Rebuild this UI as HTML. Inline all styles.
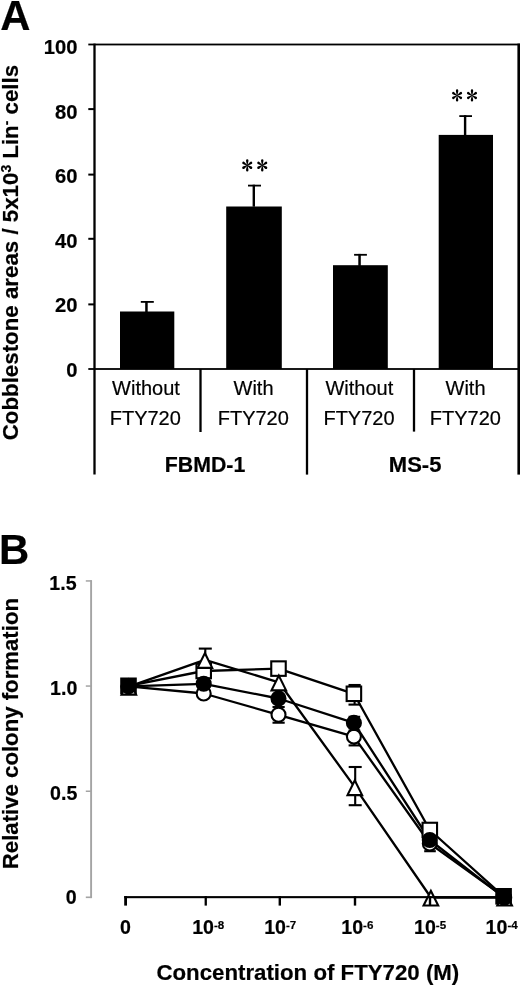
<!DOCTYPE html>
<html><head><meta charset="utf-8">
<style>
html,body{margin:0;padding:0;background:#fff;}
body{width:520px;height:985px;overflow:hidden;position:relative;}
svg{position:absolute;left:0;top:0;will-change:transform;}
text{font-family:"Liberation Sans",sans-serif;stroke:#000;stroke-width:0.2px;}
.b{font-weight:bold;}
</style></head><body>
<svg width="520" height="985" viewBox="0 0 520 985">
<!-- ========== Panel A ========== -->
<text class="b" x="0.2" y="30" font-size="41.8">A</text>
<!-- y title -->
<text class="b" font-size="22.3" transform="translate(18,440.3) rotate(-90)">Cobblestone areas / 5x10<tspan font-size="13.8" dy="-7.3">3</tspan><tspan dy="7.3"> Lin</tspan><tspan font-size="13.8" dy="-7.3">-</tspan><tspan dy="7.3"> cells</tspan></text>
<!-- tick labels -->
<g class="b" font-size="20.2" text-anchor="end">
<text x="77.4" y="54.3">100</text>
<text x="77.4" y="118.8">80</text>
<text x="77.4" y="183.2">60</text>
<text x="77.4" y="247.7">40</text>
<text x="77.4" y="312.1">20</text>
<text x="77.4" y="376.6">0</text>
</g>
<!-- frame -->
<g fill="#000">
<rect x="93.35" y="43.6" width="2.3" height="430.9"/>
<rect x="88.3" y="43.6" width="431.7" height="1.8"/>
<rect x="517.4" y="43.6" width="2.6" height="431.0"/>
<rect x="88.3" y="368.1" width="431.7" height="1.8"/>
<rect x="88.3" y="108.1" width="6" height="2"/>
<rect x="88.3" y="173.6" width="6" height="2"/>
<rect x="88.3" y="237.8" width="6" height="2"/>
<rect x="88.3" y="303.4" width="6" height="2"/>
<!-- dividers -->
<rect x="199.35" y="369" width="2.3" height="63"/>
<rect x="305.85" y="369" width="2.3" height="105.6"/>
<rect x="412.85" y="369" width="2.3" height="62.6"/>
<!-- bars -->
<rect x="120" y="311.5" width="54.3" height="57.5"/>
<rect x="226.2" y="206.5" width="55.6" height="162.5"/>
<rect x="333" y="265.2" width="54.8" height="103.8"/>
<rect x="438.7" y="134.9" width="54.3" height="234.1"/>
<!-- error bars -->
<rect x="145.2" y="301" width="2.5" height="11"/>
<rect x="140.8" y="301" width="13" height="1.8"/>
<rect x="252.6" y="184.7" width="2.4" height="22"/>
<rect x="248" y="184.7" width="13" height="1.8"/>
<rect x="358.3" y="253.9" width="2.5" height="12"/>
<rect x="354.1" y="253.9" width="12.8" height="1.8"/>
<rect x="463.9" y="115.2" width="2.4" height="20"/>
<rect x="459.3" y="115.2" width="12.7" height="1.8"/>
</g>
<!-- asterisks -->

<g transform="translate(247.25,165.35) scale(0.92,1)"><path d="M-0.35,0 C-0.7,-2.4 -1.4,-3.85 -1.3,-4.80 A1.3,1.3 0 0 1 1.3,-4.80 C1.4,-3.85 0.7,-2.4 0.35,0 Z" transform="rotate(0)"/><path d="M-0.35,0 C-0.7,-2.4 -1.4,-3.85 -1.3,-4.80 A1.3,1.3 0 0 1 1.3,-4.80 C1.4,-3.85 0.7,-2.4 0.35,0 Z" transform="rotate(60)"/><path d="M-0.35,0 C-0.7,-2.4 -1.4,-3.85 -1.3,-4.80 A1.3,1.3 0 0 1 1.3,-4.80 C1.4,-3.85 0.7,-2.4 0.35,0 Z" transform="rotate(120)"/><path d="M-0.35,0 C-0.7,-2.4 -1.4,-3.85 -1.3,-4.80 A1.3,1.3 0 0 1 1.3,-4.80 C1.4,-3.85 0.7,-2.4 0.35,0 Z" transform="rotate(180)"/><path d="M-0.35,0 C-0.7,-2.4 -1.4,-3.85 -1.3,-4.80 A1.3,1.3 0 0 1 1.3,-4.80 C1.4,-3.85 0.7,-2.4 0.35,0 Z" transform="rotate(240)"/><path d="M-0.35,0 C-0.7,-2.4 -1.4,-3.85 -1.3,-4.80 A1.3,1.3 0 0 1 1.3,-4.80 C1.4,-3.85 0.7,-2.4 0.35,0 Z" transform="rotate(300)"/></g>
<g transform="translate(262.25,165.35) scale(0.92,1)"><path d="M-0.35,0 C-0.7,-2.4 -1.4,-3.85 -1.3,-4.80 A1.3,1.3 0 0 1 1.3,-4.80 C1.4,-3.85 0.7,-2.4 0.35,0 Z" transform="rotate(0)"/><path d="M-0.35,0 C-0.7,-2.4 -1.4,-3.85 -1.3,-4.80 A1.3,1.3 0 0 1 1.3,-4.80 C1.4,-3.85 0.7,-2.4 0.35,0 Z" transform="rotate(60)"/><path d="M-0.35,0 C-0.7,-2.4 -1.4,-3.85 -1.3,-4.80 A1.3,1.3 0 0 1 1.3,-4.80 C1.4,-3.85 0.7,-2.4 0.35,0 Z" transform="rotate(120)"/><path d="M-0.35,0 C-0.7,-2.4 -1.4,-3.85 -1.3,-4.80 A1.3,1.3 0 0 1 1.3,-4.80 C1.4,-3.85 0.7,-2.4 0.35,0 Z" transform="rotate(180)"/><path d="M-0.35,0 C-0.7,-2.4 -1.4,-3.85 -1.3,-4.80 A1.3,1.3 0 0 1 1.3,-4.80 C1.4,-3.85 0.7,-2.4 0.35,0 Z" transform="rotate(240)"/><path d="M-0.35,0 C-0.7,-2.4 -1.4,-3.85 -1.3,-4.80 A1.3,1.3 0 0 1 1.3,-4.80 C1.4,-3.85 0.7,-2.4 0.35,0 Z" transform="rotate(300)"/></g>
<g transform="translate(457.1,95.45) scale(0.92,1)"><path d="M-0.35,0 C-0.7,-2.4 -1.4,-3.85 -1.3,-4.80 A1.3,1.3 0 0 1 1.3,-4.80 C1.4,-3.85 0.7,-2.4 0.35,0 Z" transform="rotate(0)"/><path d="M-0.35,0 C-0.7,-2.4 -1.4,-3.85 -1.3,-4.80 A1.3,1.3 0 0 1 1.3,-4.80 C1.4,-3.85 0.7,-2.4 0.35,0 Z" transform="rotate(60)"/><path d="M-0.35,0 C-0.7,-2.4 -1.4,-3.85 -1.3,-4.80 A1.3,1.3 0 0 1 1.3,-4.80 C1.4,-3.85 0.7,-2.4 0.35,0 Z" transform="rotate(120)"/><path d="M-0.35,0 C-0.7,-2.4 -1.4,-3.85 -1.3,-4.80 A1.3,1.3 0 0 1 1.3,-4.80 C1.4,-3.85 0.7,-2.4 0.35,0 Z" transform="rotate(180)"/><path d="M-0.35,0 C-0.7,-2.4 -1.4,-3.85 -1.3,-4.80 A1.3,1.3 0 0 1 1.3,-4.80 C1.4,-3.85 0.7,-2.4 0.35,0 Z" transform="rotate(240)"/><path d="M-0.35,0 C-0.7,-2.4 -1.4,-3.85 -1.3,-4.80 A1.3,1.3 0 0 1 1.3,-4.80 C1.4,-3.85 0.7,-2.4 0.35,0 Z" transform="rotate(300)"/></g>
<g transform="translate(472.0,95.45) scale(0.92,1)"><path d="M-0.35,0 C-0.7,-2.4 -1.4,-3.85 -1.3,-4.80 A1.3,1.3 0 0 1 1.3,-4.80 C1.4,-3.85 0.7,-2.4 0.35,0 Z" transform="rotate(0)"/><path d="M-0.35,0 C-0.7,-2.4 -1.4,-3.85 -1.3,-4.80 A1.3,1.3 0 0 1 1.3,-4.80 C1.4,-3.85 0.7,-2.4 0.35,0 Z" transform="rotate(60)"/><path d="M-0.35,0 C-0.7,-2.4 -1.4,-3.85 -1.3,-4.80 A1.3,1.3 0 0 1 1.3,-4.80 C1.4,-3.85 0.7,-2.4 0.35,0 Z" transform="rotate(120)"/><path d="M-0.35,0 C-0.7,-2.4 -1.4,-3.85 -1.3,-4.80 A1.3,1.3 0 0 1 1.3,-4.80 C1.4,-3.85 0.7,-2.4 0.35,0 Z" transform="rotate(180)"/><path d="M-0.35,0 C-0.7,-2.4 -1.4,-3.85 -1.3,-4.80 A1.3,1.3 0 0 1 1.3,-4.80 C1.4,-3.85 0.7,-2.4 0.35,0 Z" transform="rotate(240)"/><path d="M-0.35,0 C-0.7,-2.4 -1.4,-3.85 -1.3,-4.80 A1.3,1.3 0 0 1 1.3,-4.80 C1.4,-3.85 0.7,-2.4 0.35,0 Z" transform="rotate(300)"/></g>
<!-- category labels -->
<g font-size="20" text-anchor="middle">
<text x="146" y="394.6">Without</text>
<text x="145.3" y="424.8">FTY720</text>
<text x="253.5" y="394.6">With</text>
<text x="253.3" y="424.8">FTY720</text>
<text x="359.3" y="394.6">Without</text>
<text x="359" y="424.8">FTY720</text>
<text x="465.5" y="394.6">With</text>
<text x="465.4" y="424.8">FTY720</text>
</g>
<g class="b" font-size="21.3" text-anchor="middle">
<text x="205.1" y="472">FBMD-1</text>
<text x="415.1" y="472.2" font-size="22">MS-5</text>
</g>

<!-- ========== Panel B ========== -->
<text class="b" x="-1.0" y="564.2" font-size="41.8">B</text>
<text class="b" font-size="22.2" transform="translate(17.9,869.2) rotate(-90)">Relative colony formation</text>
<text class="b" font-size="22.25" x="156.4" y="979.8">Concentration of FTY720 (M)</text>
<g class="b" font-size="19.6" text-anchor="end">
<text x="76.6" y="590.2">1.5</text>
<text x="77.3" y="695.2">1.0</text>
<text x="77.3" y="800.4">0.5</text>
<text x="76.6" y="903.7">0</text>
</g>
<!-- y axis (gray) -->
<g fill="#a4a4a4">
<rect x="90.15" y="580.2" width="1.9" height="317.9"/>
<rect x="85.8" y="580.2" width="5.9" height="1.5"/>
<rect x="85.8" y="685.3" width="5.9" height="1.5"/>
<rect x="85.8" y="790.5" width="5.9" height="1.5"/>
<rect x="85.8" y="896.5" width="5.9" height="1.6"/>
</g>
<!-- x tick labels -->
<g class="b" font-size="19.6">
<text x="125.4" y="934" text-anchor="middle">0</text>
<text x="192.2" y="933.8">10<tspan font-size="11.6" dy="-4.9">-8</tspan></text>
<text x="264.2" y="933.6">10<tspan font-size="11.6" dy="-4.9">-7</tspan></text>
<text x="341.3" y="933.8">10<tspan font-size="11.6" dy="-4.9">-6</tspan></text>
<text x="414" y="933.8">10<tspan font-size="11.6" dy="-4.9">-5</tspan></text>
<text x="485.6" y="933.8">10<tspan font-size="11.6" dy="-4.9">-4</tspan></text>
</g>

<polyline points="128.80,686.60 204.90,659.80 278.80,682.30 354.80,787.10 430.90,897.50 504.60,897.50" fill="none" stroke="#000" stroke-width="2.3" stroke-linejoin="round"/>
<polyline points="128.50,685.80 203.70,671.00 278.50,668.60 353.90,693.80 429.80,830.00 503.60,896.30" fill="none" stroke="#000" stroke-width="2.3" stroke-linejoin="round"/>
<polyline points="128.50,686.40 203.70,683.80 278.50,698.50 353.90,722.90 429.80,840.00 504.20,897.70" fill="none" stroke="#000" stroke-width="2.3" stroke-linejoin="round"/>
<polyline points="128.50,686.40 203.70,693.50 278.50,714.80 353.90,736.60 429.80,843.50 503.60,896.60" fill="none" stroke="#000" stroke-width="2.3" stroke-linejoin="round"/>
<rect x="204.25" y="648.60" width="2.1" height="11.40" fill="#000"/><rect x="198.80" y="647.55" width="13.0" height="2.1" fill="#000"/>
<rect x="354.15" y="767.00" width="2.1" height="38.20" fill="#000"/><rect x="348.70" y="765.95" width="13.0" height="2.1" fill="#000"/><rect x="348.70" y="804.15" width="13.0" height="2.1" fill="#000"/>
<rect x="353.55" y="685.00" width="2.1" height="19.60" fill="#000"/><rect x="348.50" y="683.95" width="12.2" height="2.1" fill="#000"/><rect x="348.50" y="703.55" width="12.2" height="2.1" fill="#000"/>
<rect x="277.55" y="707.00" width="2.1" height="15.70" fill="#000"/><rect x="272.50" y="705.95" width="12.2" height="2.1" fill="#000"/><rect x="272.50" y="721.65" width="12.2" height="2.1" fill="#000"/>
<rect x="353.35" y="730.50" width="2.1" height="14.90" fill="#000"/><rect x="348.60" y="729.45" width="11.6" height="2.1" fill="#000"/><rect x="348.60" y="744.35" width="11.6" height="2.1" fill="#000"/>
<rect x="353.35" y="716.80" width="2.1" height="12.20" fill="#000"/><rect x="348.60" y="715.75" width="11.6" height="2.1" fill="#000"/>
<rect x="428.95" y="844.00" width="2.1" height="7.20" fill="#000"/><rect x="424.20" y="850.15" width="11.6" height="2.1" fill="#000"/>
<circle cx="128.50" cy="686.40" r="7.00" fill="#fff" stroke="#000" stroke-width="2.1"/>
<rect x="121.25" y="678.55" width="14.50" height="14.50" fill="#000" stroke="#000" stroke-width="2.1"/>
<path d="M128.80,677.50 L137.80,695.70 L119.80,695.70 Z" fill="#000"/><path d="M128.80,682.24 L134.42,693.60 L123.18,693.60 Z" fill="#fff"/>
<circle cx="128.50" cy="686.40" r="7.00" fill="#000" stroke="#000" stroke-width="2.1"/>
<circle cx="203.70" cy="693.50" r="7.00" fill="#fff" stroke="#000" stroke-width="2.1"/>
<rect x="196.45" y="663.75" width="14.50" height="14.50" fill="#fff" stroke="#000" stroke-width="2.1"/>
<path d="M204.90,650.70 L213.90,668.90 L195.90,668.90 Z" fill="#000"/><path d="M204.90,655.44 L210.52,666.80 L199.28,666.80 Z" fill="#fff"/>
<circle cx="203.70" cy="683.80" r="7.00" fill="#000" stroke="#000" stroke-width="2.1"/>
<circle cx="278.50" cy="714.80" r="7.00" fill="#fff" stroke="#000" stroke-width="2.1"/>
<rect x="271.25" y="661.35" width="14.50" height="14.50" fill="#fff" stroke="#000" stroke-width="2.1"/>
<path d="M278.80,673.20 L287.80,691.40 L269.80,691.40 Z" fill="#000"/><path d="M278.80,677.94 L284.42,689.30 L273.18,689.30 Z" fill="#fff"/>
<circle cx="278.50" cy="698.50" r="7.00" fill="#000" stroke="#000" stroke-width="2.1"/>
<circle cx="353.90" cy="736.60" r="7.00" fill="#fff" stroke="#000" stroke-width="2.1"/>
<rect x="346.65" y="686.55" width="14.50" height="14.50" fill="#fff" stroke="#000" stroke-width="2.1"/>
<path d="M354.80,778.00 L363.80,796.20 L345.80,796.20 Z" fill="#000"/><path d="M354.80,782.74 L360.42,794.10 L349.18,794.10 Z" fill="#fff"/>
<circle cx="353.90" cy="722.90" r="7.00" fill="#000" stroke="#000" stroke-width="2.1"/>
<circle cx="429.80" cy="843.50" r="7.00" fill="#fff" stroke="#000" stroke-width="2.1"/>
<rect x="422.55" y="822.75" width="14.50" height="14.50" fill="#fff" stroke="#000" stroke-width="2.1"/>
<path d="M430.90,888.40 L439.90,906.60 L421.90,906.60 Z" fill="#000"/><path d="M430.90,893.14 L436.52,904.50 L425.28,904.50 Z" fill="#fff"/>
<circle cx="429.80" cy="840.00" r="7.00" fill="#000" stroke="#000" stroke-width="2.1"/>
<circle cx="503.60" cy="896.60" r="7.00" fill="#fff" stroke="#000" stroke-width="2.1"/>
<rect x="496.35" y="889.05" width="14.50" height="14.50" fill="#000" stroke="#000" stroke-width="2.1"/>
<path d="M504.60,888.40 L513.60,906.60 L495.60,906.60 Z" fill="#000"/><path d="M504.60,893.14 L510.22,904.50 L498.98,904.50 Z" fill="#fff"/>
<circle cx="504.20" cy="897.70" r="7.00" fill="#000" stroke="#000" stroke-width="2.1"/>
<!-- x axis -->
<g fill="#000">
<rect x="124.2" y="896.1" width="380" height="2.1"/>
<rect x="124.2" y="896.1" width="2.8" height="9.5"/>
<rect x="204.6" y="896.1" width="2.3" height="9.5"/>
<rect x="278.6" y="896.1" width="2.4" height="9.5"/>
<rect x="353.8" y="896.1" width="2.4" height="9.5"/>
<rect x="428.8" y="896.1" width="2.4" height="9.5"/>
</g>

</svg>
</body></html>
